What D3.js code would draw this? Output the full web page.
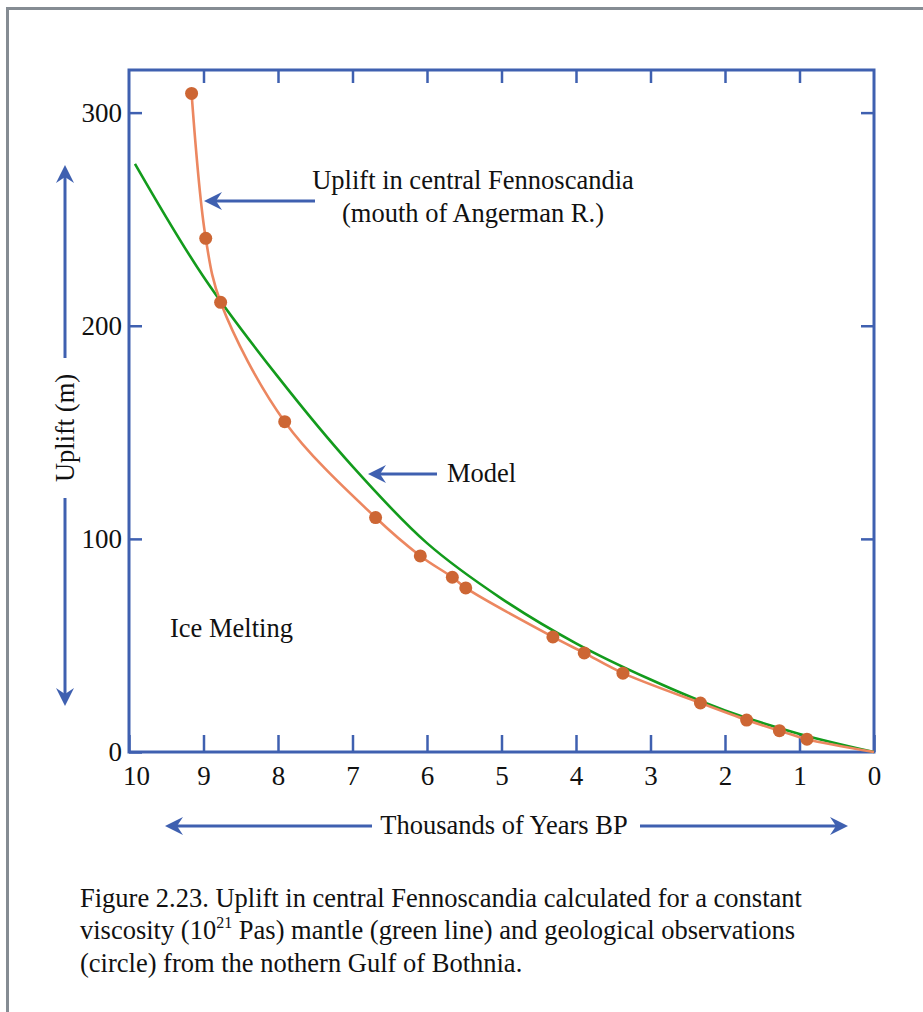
<!DOCTYPE html>
<html>
<head>
<meta charset="utf-8">
<script src="https://cdn.jsdelivr.net/npm/d3@7"></script>
<style>
  body { margin: 0; background: #fff; }
  text { font-family: "Liberation Serif", "Times New Roman", serif; fill: #111; }
</style>
</head>
<body>
<svg id="chart" width="923" height="1012"></svg>
<script>
// observations (circles), thousands of years BP vs uplift in m
var obsYears  = [9.16, 8.97, 8.77, 7.91, 6.69, 6.09, 5.66, 5.48, 4.31, 3.89, 3.37, 2.33, 1.71, 1.27, 0.90]
var obsUplift = [309, 241, 211, 155, 110, 92, 82, 77, 54, 46.5, 37, 23, 15, 10, 6]

// model curve (green line)
var modelYears  = [9.92, 9.0, 8.0, 7.0, 6.0, 5.0, 4.0, 3.0, 2.0, 1.0, 0]
var modelUplift = [276, 223, 176, 134, 98, 72, 51, 34, 19.5, 8.5, 0]

var xTicks = [10, 9, 8, 7, 6, 5, 4, 3, 2, 1, 0]
var yTicks = [0, 100, 200, 300]

var blue = "#3f60b0"
var fs = 26.5
var svg = d3.select("#chart")

// outer gray frame
svg.append("path")
  .attr("d", "M7.5,1012 L7.5,8.5 L923,8.5")
  .attr("fill", "none").attr("stroke", "#858c93").attr("stroke-width", 3)

var x = d3.scaleLinear().domain([10, 0]).range([129, 874])
var y = d3.scaleLinear().domain([0, 320]).range([752, 70])

var g = svg.append("g")

// axes: labels on bottom/left, inner ticks on all four sides
var xAxis = g.append("g").attr("transform", `translate(0,${y(0)})`)
  .call(d3.axisBottom(x).tickValues(xTicks).tickSizeInner(-17).tickSizeOuter(0).tickPadding(14).tickFormat(d3.format("d")))
g.append("g").attr("transform", `translate(0,${y(320)})`)
  .call(d3.axisTop(x).tickValues(xTicks.slice(1, 10)).tickSizeInner(-13).tickSizeOuter(0).tickFormat(""))
g.append("g").attr("transform", `translate(${x(10)},0)`)
  .call(d3.axisLeft(y).tickValues(yTicks).tickSizeInner(-13).tickSizeOuter(0).tickPadding(7))
g.append("g").attr("transform", `translate(${x(0)},0)`)
  .call(d3.axisRight(y).tickValues(yTicks.slice(1)).tickSizeInner(-13).tickSizeOuter(0).tickFormat(""))

g.selectAll(".domain").remove()
g.selectAll(".tick line").attr("stroke", blue).attr("stroke-width", 2.5)
g.selectAll(".tick text").attr("font-size", 27).attr("font-family", "Liberation Serif").attr("fill", "#111")
// the "10" sits a bit right of the corner, clear of the "0"
xAxis.selectAll(".tick text").filter(d => d === 10).attr("x", 7)

// plot frame
g.append("rect")
  .attr("x", x(10)).attr("y", y(320))
  .attr("width", x(0) - x(10)).attr("height", y(0) - y(320))
  .attr("fill", "none").attr("stroke", blue).attr("stroke-width", 3)

// model line
var model = modelYears.map((d, i) => [d, modelUplift[i]])
g.append("path")
  .datum(model)
  .attr("fill", "none").attr("stroke", "#139b1c").attr("stroke-width", 2.6)
  .attr("d", d3.line().x(d => x(d[0])).y(d => y(d[1])).curve(d3.curveCatmullRom.alpha(0.5)))

// observation line + dots
var obs = obsYears.map((d, i) => [d, obsUplift[i]])
g.append("path")
  .datum(obs.concat([[0, 0]]))
  .attr("fill", "none").attr("stroke", "#ec8760").attr("stroke-width", 2.6)
  .attr("d", d3.line().x(d => x(d[0])).y(d => y(d[1])).curve(d3.curveCatmullRom.alpha(0.5)))

g.selectAll("circle")
  .data(obs)
  .join("circle")
  .attr("cx", d => x(d[0]))
  .attr("cy", d => y(d[1]))
  .attr("r", 6.5)
  .attr("fill", "#cd6634")

// arrows
function arrow(x1, y1, x2, y2) {
  var a = Math.atan2(y2 - y1, x2 - x1)
  svg.append("line")
    .attr("x1", x1).attr("y1", y1)
    .attr("x2", x2 - 8 * Math.cos(a)).attr("y2", y2 - 8 * Math.sin(a))
    .attr("stroke", blue).attr("stroke-width", 3)
  var L = 18, W = 9, N = 12
  var c = Math.cos(a), s = Math.sin(a)
  var p = [
    [x2, y2],
    [x2 - L * c + W * s, y2 - L * s - W * c],
    [x2 - N * c, y2 - N * s],
    [x2 - L * c - W * s, y2 - L * s + W * c]
  ]
  svg.append("path")
    .attr("d", "M" + p.map(q => q.join(",")).join("L") + "Z")
    .attr("fill", blue)
}

arrow(315, 201, 204, 201)
arrow(437, 474, 368, 474)
arrow(372, 826, 165, 826)
arrow(640, 826, 848, 826)
arrow(65, 358, 65, 165)
arrow(65, 498, 65, 706)

// annotations
function label(t, px, py, anchor) {
  return svg.append("text").attr("x", px).attr("y", py)
    .attr("font-size", fs).attr("text-anchor", anchor || "start").text(t)
}
label("Uplift in central Fennoscandia", 473, 189, "middle")
label("(mouth of Angerman R.)", 473, 222, "middle")
label("Model", 447, 482)
label("Ice Melting", 170, 637)
label("Thousands of Years BP", 504, 834, "middle")

svg.append("text")
  .attr("transform", "translate(74,428) rotate(-90)")
  .attr("text-anchor", "middle").attr("font-size", fs)
  .text("Uplift (m)")

// caption
var cap = svg.append("g")
cap.append("text").attr("x", 80).attr("y", 907).attr("font-size", fs)
  .text("Figure 2.23. Uplift in central Fennoscandia calculated for a constant")
var l2 = cap.append("text").attr("x", 80).attr("y", 939).attr("font-size", fs)
l2.append("tspan").text("viscosity (10")
l2.append("tspan").attr("font-size", 16).attr("dy", -11).text("21")
l2.append("tspan").attr("dy", 11).text(" Pas) mantle (green line) and geological observations")
cap.append("text").attr("x", 80).attr("y", 972).attr("font-size", fs)
  .text("(circle) from the nothern Gulf of Bothnia.")
</script>
</body>
</html>
